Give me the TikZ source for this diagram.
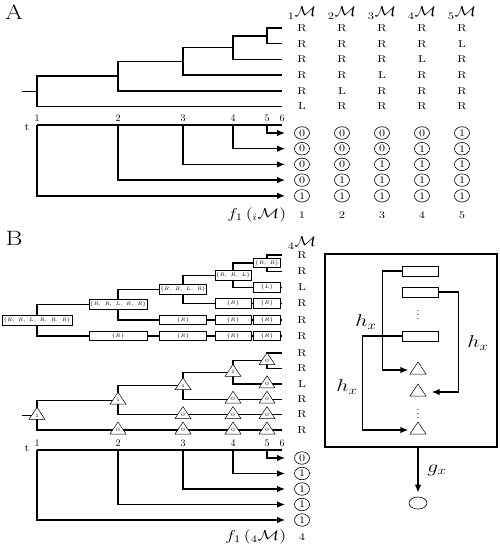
\documentclass[tikz,border=0pt]{standalone}
\usetikzlibrary{arrows.meta,shapes.geometric}

\tikzset{
  txt/.style={inner sep=0pt, xscale=1.25},
  leaf value/.style={circle, draw, line width=0.6pt, minimum size=12.5pt, inner sep=0pt, xscale=1.2, fill=white},
  state box/.style={rectangle, draw, line width=0.8pt, minimum height=9.5pt, inner sep=0pt, fill=white, font=\tiny},
  vote/.style={regular polygon, regular polygon sides=3, draw, line width=0.5pt, minimum size=16pt, inner sep=0pt, xscale=1.15, fill=white, font=\tiny},
  stage 1/.style={minimum width=70pt},
  stage 2/.style={minimum width=58pt},
  stage 3/.style={minimum width=47pt},
  stage 4/.style={minimum width=36pt},
  stage 5/.style={minimum width=27pt},
}

\begin{document}
\begin{tikzpicture}[x=1pt, y=-1pt, >={Latex[length=8pt,width=6.5pt]}, line width=1.4pt]
\useasboundingbox (0,0) rectangle (500,547);

% A
\node [txt, font=\huge] (A-name) at (14,12) {A};

\foreach \x/\y [count=\k] in {37/91.3,118/76.1,183/61.4,233/47.6,267/35.9}
  \coordinate (A-n\k) at (\x,\y);
\foreach \y [count=\j] in {28,43.7,59.4,75.1,90.8,106.5}
  \coordinate (A-l\j) at (282,\y);
\coordinate (A-root) at (22,91.3);

% B
\node [txt, font=\huge] (B-name) at (14,238) {B};

\foreach \x/\y [count=\k] in {37/320.3,118/304.6,183/289.4,233/275.3,267/263.1}
  \coordinate (Bt-n\k) at (\x,\y);
\foreach \y [count=\j] in {255,271.2,287.4,303.6,319.8,336}
  \coordinate (Bt-l\j) at (282,\y);
\coordinate (Bt-root) at (22,320.3);

\foreach \x/\y [count=\k] in {37/415.4,118/400.2,183/385.7,233/372.3,267/360.7}
  \coordinate (Bb-n\k) at (\x,\y);
\foreach \y [count=\j] in {353,368.4,383.8,399.2,414.6,430}
  \coordinate (Bb-l\j) at (282,\y);
\coordinate (Bb-root) at (22,415.4);

% the three trees
\foreach \p in {A,Bt,Bb} {
  \draw (\p-root) -- (\p-n1);
  \foreach \k [evaluate=\k as \u using int(\k+1), evaluate=\k as \d using int(7-\k)] in {1,...,4}
    \draw (\p-n\u) -| (\p-n\k) |- (\p-l\d);
  \draw (\p-l1) -| (\p-n5) |- (\p-l2);
}

% boxes on the upper tree
\foreach \s [count=\k] in {{R,\ R,\ L,\ R,\ R,\ R},{R,\ R,\ L,\ R,\ R},{R,\ R,\ L,\ R},{R,\ R,\ L},{R,\ R}}
  \node [state box, stage \k/.try] (Bt-b\k) at (Bt-n\k) {$\{\s\}$};
\foreach \r [evaluate=\r as \f using int(8-\r)] in {3,...,6}
  \foreach \k in {\f,...,5}
    \node [state box, stage \k/.try] (Bt-b\r-\k) at (Bt-n\k |- Bt-l\r) {$\{\ifnum\r=3 L\else R\fi\}$};

% triangles on the lower tree
\foreach \v [count=\k] in {1,1,1,1,0}
  \node [vote] (Bb-g\k) at (Bb-n\k) {\v};
\foreach \r [evaluate=\r as \f using int(8-\r)] in {3,...,6}
  \foreach \k in {\f,...,5}
    \node [vote] (Bb-g\r-\k) at (Bb-n\k |- Bb-l\r) {0};

% time axes
\foreach \x [count=\k] in {37,118,183,233,267,282} {
  \coordinate (A-t\k) at (\x,125);
  \coordinate (Bb-t\k) at (\x,450);
  \node [above=3pt, inner sep=0pt] (A-tl\k) at (A-t\k) {\k};
  \node [above=3pt, inner sep=0pt] (Bb-tl\k) at (Bb-t\k) {\k};
}
\draw (A-t1) -- (A-t6);
\draw (Bb-t1) -- (Bb-t6);
\node [txt] (A-tn) at (27,127) {t};
\node [txt] (Bb-tn) at (27,448) {t};

% columns of A
\foreach \c in {1,...,5} {
  \node [txt, font=\Large] (A-h\c) at ({262+40*\c},13) {${}_{\c}\mathcal{M}$};
  \foreach \j in {1,...,6}
    \node [txt] (A-s\j-\c) at ({262+40*\c},{28+15.7*(\j-1)}) {\ifnum\numexpr\c+\j\relax=7 L\else R\fi};
  \foreach \r [evaluate=\r as \v using int(\c+\r>5)] in {1,...,5}
    \node [leaf value] (A-c\r-\c) at ({262+40*\c},{133+15.7*(\r-1)}) {\v};
  \node [txt] (A-i\c) at ({262+40*\c},215) {\c};
}

\foreach \k/\r in {5/1,4/2,3/3,2/4,1/5}
  \draw [->, shorten >=9pt] (A-t\k) |- (A-c\r-1);

\node [txt, font=\Large, anchor=east] (A-f) at (287,215) {$f_1\,({}_i\mathcal{M})$};

% column of B
\node [txt, font=\Large] (B-h) at (302,243) {${}_4\mathcal{M}$};
\foreach \j in {1,...,6} {
  \node [txt] (Bt-s\j) at (302,0 |- Bt-l\j) {\ifnum\j=3 L\else R\fi};
  \node [txt] (Bb-s\j) at (302,0 |- Bb-l\j) {\ifnum\j=3 L\else R\fi};
}
\foreach \v [count=\r] in {0,1,1,1,1}
  \node [leaf value] (Bb-c\r) at (302,{458+15.5*(\r-1)}) {\v};
\foreach \k/\r in {5/1,4/2,3/3,2/4,1/5}
  \draw [->, shorten >=9pt] (Bb-t\k) |- (Bb-c\r);

\node [txt, font=\Large, anchor=east] (B-f) at (287,537) {$f_1\,({}_4\mathcal{M})$};
\node [txt] (B-i) at (302,537) {4};

% right panel
\node [draw, line width=1.4pt, inner sep=0pt, minimum width=172pt, minimum height=193pt] (R-frame) at (411,350.5) {};
\foreach \y [count=\i] in {271,292,336}
  \node [draw, line width=0.8pt, inner sep=0pt, minimum width=36pt, minimum height=10pt] (R-b\i) at (420,\y) {};
\node [inner sep=0pt] (R-d1) at (418,312) {$\vdots$};
\foreach \y [count=\i] in {370,392,430}
  \node [vote] (R-t\i) at (418,\y) {};
\node [inner sep=0pt] (R-d2) at (418,411) {$\vdots$};

\draw [->, shorten >=4pt] (R-b1.west) -- ++(-19,0) |- (R-t1);
\draw [->, shorten >=8pt] (R-b2.east) -- ++(20,0) |- (R-t2);
\draw [->, shorten >=4pt] (R-b3.west) -- ++(-39,0) |- (R-t3);

\node [txt, font=\LARGE] (R-h1) at (366,322) {$h_x$};
\node [txt, font=\LARGE] (R-h2) at (478,343) {$h_x$};
\node [txt, font=\LARGE] (R-h3) at (347,387) {$h_x$};

\node [circle, draw, line width=0.6pt, minimum size=12pt, inner sep=0pt, xscale=1.5] (R-o) at (418,503) {};
\draw [->, shorten >=4pt] (R-o |- R-frame.south) -- (R-o);
\node [txt, font=\LARGE] (R-g) at (437,470) {$g_x$};

\end{tikzpicture}
\end{document}
